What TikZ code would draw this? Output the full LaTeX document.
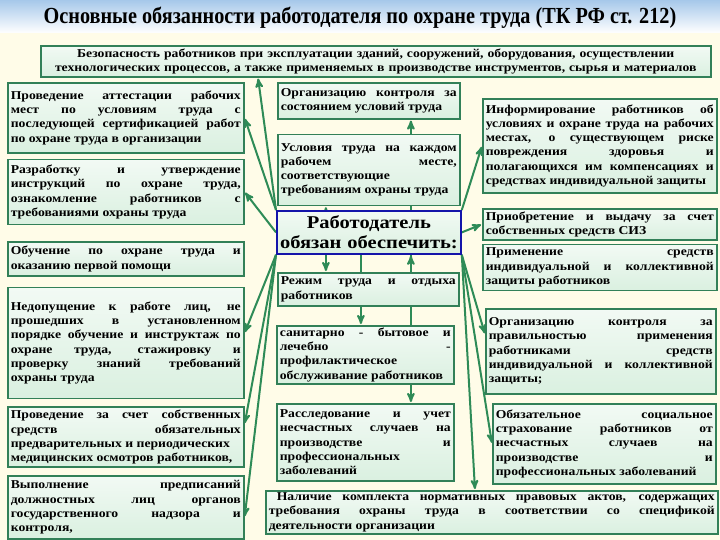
\documentclass[tikz,border=0pt]{standalone}
\usepackage{fontspec}
\setmainfont{Liberation Serif}
\newfontfamily\boxfont{Liberation Serif}[FakeStretch=1.14]
\newfontfamily\headfont{Liberation Serif}[FakeStretch=0.88]
\usetikzlibrary{arrows,positioning,calc,backgrounds}

\definecolor{paper}{RGB}{255,252,232}
\definecolor{sky}{RGB}{166,200,234}
\definecolor{boxline}{RGB}{50,128,88}
\definecolor{boxfill}{RGB}{218,240,224}
\definecolor{arrowgreen}{RGB}{46,139,87}
\definecolor{chiefline}{RGB}{20,20,170}

\newcommand{\nohyph}{\hyphenpenalty=10000\relax\tolerance=10000\relax}

\tikzset{
  duty/.style={draw=boxline, line width=1.6pt, top color=boxfill!35!white, bottom color=boxfill,
    inner xsep=3pt, inner ysep=2pt, align=justify, anchor=north west,
    font=\boxfont\bfseries\fontsize{12}{14.3}\selectfont\nohyph},
  chief/.style={duty, draw=chiefline, line width=1.8pt, align=center,
    font=\boxfont\bfseries\fontsize{18}{20.5}\selectfont},
  feed/.style={draw=arrowgreen, line width=2pt, ->}
}

\begin{document}
\begin{tikzpicture}[x=1pt,y=-1pt,>=stealth',shorten >=1pt]
  \useasboundingbox (0,0) rectangle (720,540);

  \node[font=\headfont\bfseries\fontsize{23}{25}\selectfont] (title) at (360,18)
    {Основные обязанности работодателя по охране труда (ТК РФ ст. 212)};

  \node[duty, align=center, text width=664pt, minimum height=31pt] (T) at (40,45)
    {Безопасность работников при эксплуатации зданий, сооружений, оборудования, осуществлении\\
     технологических процессов, а также применяемых в производстве инструментов, сырья и материалов};

  % left column
  \node[duty, text width=230pt, minimum height=70pt] (L1) at (7,82)
    {Проведение аттестации рабочих \linebreak мест по условиям труда с \linebreak последующей сертификацией работ \linebreak по охране труда в организации};
  \node[duty, text width=230pt, minimum height=65pt, below=5pt of L1] (L2)
    {Разработку и утверждение \linebreak инструкций по охране труда, \linebreak ознакомление работников с \linebreak требованиями охраны труда};
  \node[duty, text width=230pt, minimum height=34pt, below=16pt of L2] (L3)
    {Обучение по охране труда и \linebreak оказанию первой помощи};
  \node[duty, text width=230pt, minimum height=111pt, below=10pt of L3] (L4)
    {Недопущение к работе лиц, не \linebreak прошедших в установленном \linebreak порядке обучение и инструктаж по \linebreak охране труда, стажировку и \linebreak проверку знаний требований \linebreak охраны труда\par\vspace{22pt}};
  \node[duty, text width=230pt, minimum height=60pt, below=7pt of L4] (L5)
    {Проведение за счет собственных \linebreak средств обязательных \linebreak предварительных и периодических\\ медицинских осмотров работников,};
  \node[duty, text width=230pt, minimum height=63pt, below=7pt of L5] (L6)
    {Выполнение предписаний \linebreak должностных лиц органов \linebreak государственного надзора и \linebreak контроля,};

  % middle column
  \node[duty, text width=176pt, minimum height=36pt] (M1) at (277,82)
    {Организацию контроля за \linebreak состоянием условий труда};
  \node[duty, text width=176pt, minimum height=71pt, below=14pt of M1] (M2)
    {Условия труда на каждом \linebreak рабочем месте, \linebreak соответствующие\\ требованиям охраны труда};
  \node[chief, text width=178pt, minimum height=43pt] (C) at (276,210)
    {Работодатель\\ обязан обеспечить:};
  \node[duty, text width=175pt, minimum height=33pt] (M3) at (277,272)
    {Режим труда и отдыха \linebreak работников};
  \node[duty, text width=171pt, minimum height=58pt] (M4) at (276,325)
    {санитарно - бытовое и \linebreak лечебно - \linebreak профилактическое\\ обслуживание работников};
  \node[duty, text width=171pt, minimum height=77pt] (M5) at (276,403)
    {Расследование и учет \linebreak несчастных случаев на \linebreak производстве и \linebreak профессиональных\\ заболеваний};
  \node[duty, text width=446pt, minimum height=43pt] (B) at (265,490)
    {\hspace*{8pt}Наличие комплекта нормативных правовых актов, содержащих \linebreak требования охраны труда в соответствии со спецификой \linebreak деятельности организации};

  % right column
  \node[duty, text width=228pt, minimum height=94pt] (R1) at (482,98)
    {Информирование работников об \linebreak условиях и охране труда на рабочих \linebreak местах, о существующем риске \linebreak повреждения здоровья и \linebreak полагающихся им компенсациях и \linebreak средствах индивидуальной защиты};
  \node[duty, text width=228pt, minimum height=31pt] (R2) at (482,208)
    {Приобретение и выдачу за счет \linebreak собственных средств СИЗ};
  \node[duty, text width=228pt, minimum height=46pt, below=3pt of R2] (R3)
    {Применение средств \linebreak индивидуальной и коллективной \linebreak защиты работников};
  \node[duty, text width=224pt, minimum height=85pt] (R4) at (485,308)
    {Организацию контроля за \linebreak правильностью применения \linebreak работниками средств \linebreak индивидуальной и коллективной \linebreak защиты;};
  \node[duty, text width=217pt, minimum height=80pt] (R5) at (492,403)
    {Обязательное социальное \linebreak страхование работников от \linebreak несчастных случаев на \linebreak производстве и \linebreak профессиональных заболеваний};

  \begin{scope}[on background layer]
    \fill[paper] (0,0) rectangle (720,540);
    \shade[top color=sky, bottom color=white] (0,0) rectangle (720,33);

    \path[feed]
    (C.north west) edge ([xshift=218pt]T.south west)
    (C.north west) edge (L1.east)
    (C.west)       edge (L2.east)
    (C.south west) edge ([yshift=10pt]L4.east)
    (C.south west) edge ([yshift=13pt]L5.east)
    (C.south west) edge ([yshift=-10pt]L6.east)
    (C.north east) edge (R1.west)
    (C.east)       edge (R2.west)
    (C.south east) edge ([yshift=17pt]R4.west)
    (C.south east) edge (R5.west)
    (C.south east) edge ([xshift=210pt]B.north west)
    ([xshift=-43pt]C.north) edge ([xshift=-43pt]C.north |- M2.south)
    ([xshift=42pt]C.north)  edge ([xshift=42pt]C.north |- M1.south)
    ([xshift=-43pt]C.south) edge ([xshift=-43pt]C.south |- M3.north)
    ([xshift=-8pt]C.south)  edge ([xshift=-8pt]C.south |- M4.north)
    ([xshift=42pt]C.south)  edge ([xshift=42pt]C.south |- M5.north)
    ;
  \end{scope}
\end{tikzpicture}
\end{document}
